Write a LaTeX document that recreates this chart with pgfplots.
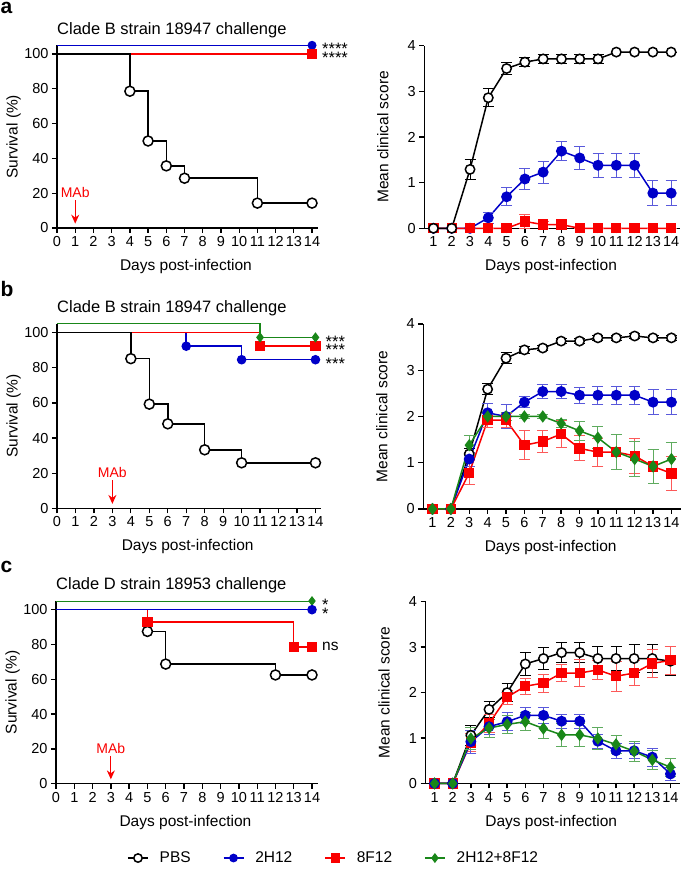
\documentclass[border=0pt]{standalone}
\usepackage{fontspec}
\setmainfont{Liberation Sans}
\usepackage{pgfplots}
\pgfplotsset{compat=1.18}
\usepackage{pgfplotstable}
\usetikzlibrary{arrows.meta}

\definecolor{pblue}{RGB}{0,0,200}
\definecolor{pred}{RGB}{250,0,0}
\definecolor{pgreen}{RGB}{25,135,25}

% Clinical score tables: day, PBS, err, 2H12, err, 8F12, err, 2H12+8F12, err
\pgfplotstableread{
x p pe h he f fe g ge
1 0 0 0 0 0 0 0 0
2 0 0 0 0 0 0 0 0
3 1.29 0.21 0 0 0 0 0 0
4 2.86 0.20 0.23 0.12 0 0 0 0
5 3.50 0.13 0.69 0.20 0 0 0 0
6 3.64 0.10 1.08 0.24 0.15 0.15 0 0
7 3.71 0.10 1.23 0.24 0.08 0.08 0 0
8 3.71 0.10 1.69 0.21 0.08 0.08 0 0
9 3.71 0.10 1.54 0.26 0 0 0 0
10 3.71 0.10 1.38 0.27 0 0 0 0
11 3.86 0 1.38 0.27 0 0 0 0
12 3.86 0 1.38 0.27 0 0 0 0
13 3.86 0 0.77 0.28 0 0 0 0
14 3.86 0 0.77 0.28 0 0 0 0
}\tA
\pgfplotstableread{
x p pe h he f fe g ge
1 0 0 0 0 0 0 0 0
2 0 0 0 0 0 0 0 0
3 1.19 0.12 1.08 0.15 0.78 0.26 1.38 0.22
4 2.59 0.12 2.08 0.20 1.92 0.15 2.00 0.10
5 3.26 0.12 2.00 0.25 1.92 0.15 2.00 0.08
6 3.44 0.08 2.31 0.12 1.38 0.31 2.00 0.05
7 3.48 0.06 2.54 0.16 1.46 0.23 2.00 0.05
8 3.63 0.06 2.54 0.16 1.62 0.30 1.85 0.08
9 3.63 0.06 2.46 0.17 1.31 0.27 1.69 0.20
10 3.70 0.05 2.46 0.20 1.23 0.30 1.54 0.24
11 3.70 0.05 2.46 0.20 1.23 0.38 1.23 0.38
12 3.74 0.05 2.46 0.20 1.15 0.38 1.08 0.37
13 3.70 0.05 2.31 0.27 0.92 0.37 0.92 0.36
14 3.70 0.05 2.31 0.27 0.77 0.36 1.08 0.36
}\tB
\pgfplotstableread{
x p pe h he f fe g ge
1 0 0 0 0 0 0 0 0
2 0 0 0 0 0 0 0 0
3 1.06 0.22 0.92 0.25 0.90 0.20 0.99 0.25
4 1.63 0.17 1.25 0.17 1.32 0.20 1.22 0.20
5 2.00 0.20 1.36 0.20 1.90 0.15 1.30 0.20
6 2.63 0.25 1.50 0.17 2.14 0.17 1.36 0.20
7 2.75 0.25 1.50 0.17 2.21 0.20 1.21 0.22
8 2.88 0.22 1.37 0.15 2.43 0.18 1.07 0.25
9 2.88 0.22 1.37 0.15 2.43 0.30 1.07 0.25
10 2.75 0.27 0.93 0.16 2.50 0.20 0.99 0.24
11 2.75 0.27 0.72 0.17 2.36 0.33 0.86 0.20
12 2.75 0.30 0.72 0.17 2.43 0.27 0.71 0.22
13 2.75 0.30 0.58 0.20 2.64 0.30 0.52 0.20
14 2.69 0.32 0.21 0.15 2.71 0.30 0.36 0.20
}\tC

\pgfplotsset{
  base/.style={scale only axis, clip=false, axis lines=left,
    axis line style={-, line width=1.3pt},
    tick style={line width=1.3pt, black}, tick align=outside, major tick length=5pt,
    /pgf/number format/assume math mode=true,
    tick label style={font=\fontsize{14.5}{16}\selectfont},
    label style={font=\fontsize{15.5}{18}\selectfont},
    xlabel={Days post-infection},
    x label style={at={(axis description cs:0.495,0)}, anchor=center, yshift=-38.5pt},
  },
  surv/.style={base, xmin=0, xmax=14.3, ymin=0, ymax=105,
    xtick={0,...,14}, ytick={0,20,...,100}, ylabel={Survival (\%)},
    y label style={at={(axis description cs:0,0.5)}, anchor=center, yshift=43.5pt}},
  score/.style={base, xmin=0.5, xmax=14.5, ymin=0, ymax=4,
    xtick={1,...,14}, ytick={0,...,4}, ylabel={Mean clinical score},
    y label style={at={(axis description cs:0,0.5)}, anchor=center, yshift=41.5pt}},
  kmP/.style={black, line width=1.5pt, const plot, mark=*, mark size=5pt, mark options={fill=white, line width=1.5pt}},
  kmH/.style={pblue, line width=1.5pt, const plot, mark=*, mark size=4pt},
  kmF/.style={pred, line width=1.5pt, const plot, mark=square*, mark size=4.4pt},
  kmG/.style={pgreen, line width=1.2pt, const plot, mark=diamond*, mark size=4.2pt},
  errs/.style={error bars/y dir=both, error bars/y explicit,
     error bars/error bar style={line width=0.9pt, #1},
     error bars/error mark options={rotate=90, mark size=5.5pt, line width=0.9pt, #1}},
  scP/.style={black, line width=1.5pt, mark=*, mark size=4.7pt, mark options={fill=white, line width=1.5pt}, errs=black},
  scH/.style={pblue, line width=1.5pt, mark=*, mark size=4.7pt, errs={pblue!65!white}},
  scF/.style={pred, line width=1.5pt, mark=square*, mark size=4.4pt, errs={pred!65!white}},
  scG/.style={pgreen, line width=1.5pt, mark=diamond*, mark size=5pt, errs={pgreen!70!white}},
}
\newcommand{\ttl}[1]{\node[anchor=base west, inner sep=0pt, font=\fontsize{16.5}{19}\selectfont] at (axis description cs:0,1) [yshift=11pt] {#1};}
\newcommand{\mab}[1]{%
  \draw[pred, line width=1.2pt, -{Stealth[length=9pt,width=8pt]}] (axis cs:#1,16) -- (axis cs:#1,2.5);
  \node[pred, inner sep=0pt, font=\fontsize{14}{16}\selectfont] at (axis cs:#1,20.3) {MAb};}
\newcommand{\sig}[2]{\node[anchor=base west, inner sep=0pt, font=\fontsize{16.5}{19}\selectfont] at (axis cs:14,#1) [xshift=10pt, yshift=-9.6pt] {#2};}

\begin{document}
\begin{tikzpicture}
\useasboundingbox (0pt,0pt) rectangle (685pt,872pt);
\node[anchor=base west, inner sep=0pt, font=\bfseries\fontsize{21}{24}\selectfont] at (0.5pt,858.7pt) {a};
\node[anchor=base west, inner sep=0pt, font=\bfseries\fontsize{21}{24}\selectfont] at (0.5pt,575.4pt) {b};
\node[anchor=base west, inner sep=0pt, font=\bfseries\fontsize{21}{24}\selectfont] at (0.5pt,299pt) {c};

% ---------- a left
\begin{axis}[surv, at={(57pt,644pt)}, anchor=south west, width=260.5pt, height=182.7pt]
\ttl{Clade B strain 18947 challenge}
\addplot[kmH, line width=0.9pt, mark indices={2}] coordinates {(0,105)(14,105)};
\addplot[kmF, mark indices={2}] coordinates {(0,100)(14,100)};
\addplot[kmP, mark indices={2,3,4,5,6,7}] coordinates {(0,100)(4,78.6)(5,50)(6,35.7)(7,28.6)(11,14.3)(14,14.3)};
\mab{1}
\sig{105}{****}
\sig{100}{****}
\end{axis}

% ---------- a right
\begin{axis}[score, at={(424.3pt,643.7pt)}, anchor=south west, width=256pt, height=182.6pt]
\addplot[scH] table[x=x, y=h, y error=he] {\tA};
\addplot[scF] table[x=x, y=f, y error=fe] {\tA};
\addplot[scP] table[x=x, y=p, y error=pe] {\tA};
\end{axis}

% ---------- b left
\begin{axis}[surv, at={(57pt,363.7pt)}, anchor=south west, width=264pt, height=184.4pt]
\ttl{Clade B strain 18947 challenge}
\addplot[kmH, mark indices={2,3,4}] coordinates {(0,100)(7,92.3)(10,84.6)(14,84.6)};
\addplot[kmF, mark indices={2,3}] coordinates {(0,100)(11,92.3)(14,92.3)};
\addplot[kmP, mark indices={2,3,4,5,6,7}] coordinates {(0,100)(4,85.2)(5,59.3)(6,48.1)(8,33.3)(10,25.9)(14,25.9)};
\addplot[kmG, mark indices={2,3}] coordinates {(0,105)(11,97.3)(14,97.3)};
\mab{3}
\sig{97.3}{***}
\sig{92.3}{***}
\sig{84.6}{***}
\end{axis}

% ---------- b right
\begin{axis}[score, at={(423.3pt,363pt)}, anchor=south west, width=257.3pt, height=185pt]
\addplot[scP] table[x=x, y=p, y error=pe] {\tB};
\addplot[scH] table[x=x, y=h, y error=he] {\tB};
\addplot[scF] table[x=x, y=f, y error=fe] {\tB};
\addplot[scG] table[x=x, y=g, y error=ge] {\tB};
\end{axis}

% ---------- c left
\begin{axis}[surv, at={(56pt,88.3pt)}, anchor=south west, width=261.5pt, height=182.7pt]
\ttl{Clade D strain 18953 challenge}
\addplot[kmP, mark indices={2,3,4,5}] coordinates {(0,100)(5,87.5)(6,68.75)(12,62.5)(14,62.5)};
\addplot[kmF, mark indices={2,3,4}] coordinates {(0,100)(5,92.9)(13,78.6)(14,78.6)};
\addplot[kmG, line width=0.9pt, mark indices={2}] coordinates {(0,105)(14,105)};
\addplot[kmH, mark indices={2}] coordinates {(0,100)(14,100)};
\mab{3}
\sig{105}{*}
\sig{100}{*}
\node[anchor=base west, inner sep=0pt, font=\fontsize{15.5}{18}\selectfont] at (axis cs:14,78.6) [xshift=10pt, yshift=-4pt] {ns};
\end{axis}

% ---------- c right
\begin{axis}[score, at={(425.5pt,88.5pt)}, anchor=south west, width=254pt, height=181.8pt,
  legend columns=4,
  legend style={draw=none, fill=none, inner sep=0pt, at={(axis description cs:-1.175,-0.41)}, anchor=west,
    font=\fontsize{15.5}{18}\selectfont,
    /tikz/every even column/.append style={column sep=30pt}},
  legend image code/.code={\draw[mark repeat=2,mark phase=2,#1] plot coordinates {(0pt,0pt)(10pt,0pt)(20pt,0pt)}; \path (29pt,0pt);}]
\addlegendimage{black, line width=1.5pt, mark=*, mark size=4.2pt, mark options={fill=white, line width=1.5pt}}
\addlegendentry{PBS}
\addlegendimage{pblue, line width=1.5pt, mark=*, mark size=3.6pt}
\addlegendentry{2H12}
\addlegendimage{pred, line width=1.5pt, mark=square*, mark size=3.8pt}
\addlegendentry{8F12}
\addlegendimage{pgreen, line width=1.5pt, mark=diamond*, mark size=3.8pt}
\addlegendentry{2H12+8F12}
\addplot[forget plot, scP] table[x=x, y=p, y error=pe] {\tC};
\addplot[forget plot, scF] table[x=x, y=f, y error=fe] {\tC};
\addplot[forget plot, scH] table[x=x, y=h, y error=he] {\tC};
\addplot[forget plot, scG] table[x=x, y=g, y error=ge] {\tC};
\end{axis}
\end{tikzpicture}
\end{document}
